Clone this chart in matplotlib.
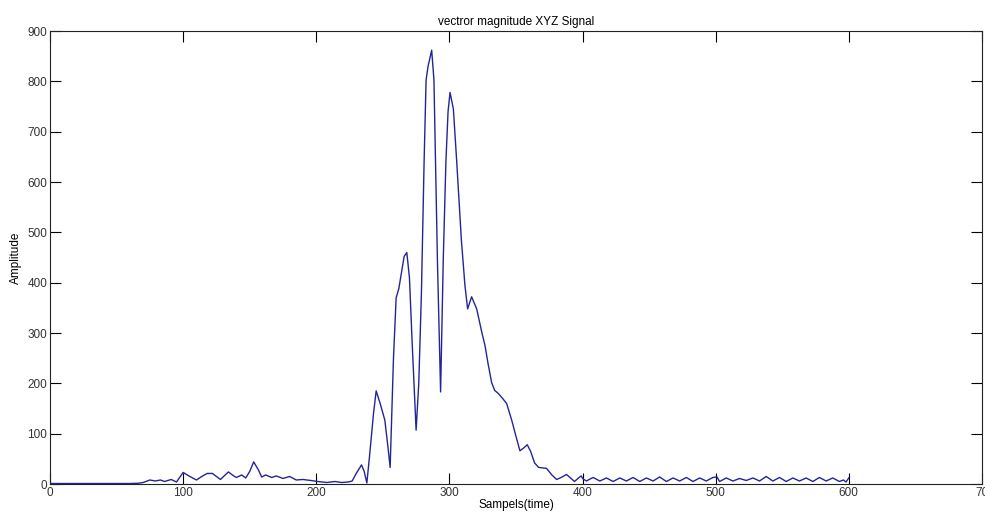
import matplotlib
matplotlib.use("Agg")
import matplotlib.pyplot as plt

plt.rcParams['font.family'] = ['Liberation Sans', 'DejaVu Sans']

# samples (time) and vector magnitude
samples = [0, 30, 60, 66, 70, 75, 79, 83, 86, 91, 95, 100, 105, 110, 114, 118, 122,
           128, 134, 138, 140, 144, 147, 150, 153, 156.5, 159, 162, 166.5, 170, 175,
           180, 185, 190, 196, 201, 208, 214, 219, 224, 227, 230, 234, 236, 238, 240,
           243, 245, 248, 251.5, 254, 255.5, 258, 260, 262, 264, 266, 268, 270, 272,
           275, 277, 279, 281, 282.5, 284, 286.7, 288.4, 291, 293.4, 295.4, 297.4,
           299, 300.5, 303, 305.5, 309, 311.7, 313.7, 316.7, 320.5, 324.3, 326.7,
           329, 331.7, 334, 336.7, 340, 343, 346.8, 350, 353, 356, 358.5, 361, 364,
           367, 373, 377, 380.6, 384, 388, 391, 394, 397, 399, 400.5, 403,
           405, 408, 413, 418, 423, 428, 433, 438, 443, 448, 453, 458, 463, 468, 473,
           478, 483, 488, 493, 498, 501, 503, 508, 513, 518, 523, 528, 533, 538, 543,
           548, 553, 558, 563, 568, 573, 578, 583, 588, 593, 596, 598, 600]
amplitude = [1, 1, 1, 1.5, 3, 8, 6, 8, 5, 9, 4, 23, 15, 8, 15, 21, 21,
             9, 24, 16, 13, 18, 12, 25, 44, 28, 14, 18, 13, 16, 11,
             15, 8, 9, 7, 5, 3, 5, 3, 4, 6, 21, 38, 25, 2, 55,
             140, 185, 160, 127, 70, 33, 250, 370, 388, 420, 452, 460, 410, 283,
             107, 200, 380, 640, 803, 830, 862, 803, 446, 183, 446, 641,
             740, 778, 745, 641, 485, 394, 348, 372, 348, 302, 276,
             240, 202, 186, 180, 170, 160, 127, 95, 66, 72, 78, 65, 42,
             33, 31, 18, 9, 13, 19, 12, 5, 12, 16, 10, 6,
             9, 13, 6, 12, 5, 12, 6, 13, 5, 12, 6, 14, 5, 12, 6,
             13, 5, 12, 6, 13, 14, 5, 12, 6, 11, 7, 12, 6, 15, 6,
             13, 5, 12, 6, 12, 5, 13, 6, 12, 5, 8, 4, 12]

fig = plt.figure(figsize=(9.85, 5.13), dpi=100)
ax = fig.add_axes([0.0508, 0.0565, 0.946, 0.883])

ax.plot(samples, amplitude, color='#24249a', linewidth=1.0)

ax.set_xlim(0, 700)
ax.set_ylim(0, 900)
ax.set_xticks(range(0, 701, 100))
ax.set_xticklabels(['0', '100', '200', '300', '400', '500', '600', '70'])
ax.set_yticks(range(0, 901, 100))

ax.tick_params(direction='in', length=8, width=0.8, top=True, right=True,
               labelsize=8.5, labelcolor='#333333', pad=2)
for s in ax.spines.values():
    s.set_linewidth(0.8)
    s.set_color('#222222')

ax.set_title('vectror magnitude XYZ Signal', fontsize=8.5, pad=4)
ax.set_xlabel('Sampels(time)', fontsize=8.5, labelpad=0)
ax.set_ylabel('Amplitude', fontsize=8.5, labelpad=4)

fig.savefig('out.png', dpi=100)
